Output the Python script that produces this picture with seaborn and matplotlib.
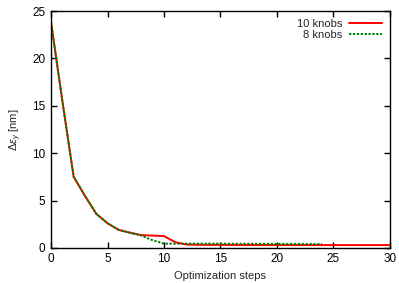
import matplotlib
matplotlib.use("Agg")
import matplotlib.pyplot as plt
import seaborn as sns
import pandas as pd

steps_10 = list(range(0, 31))
knobs_10 = [23.8, 15.5, 7.5, 5.5, 3.6, 2.6, 1.9, 1.6, 1.35, 1.3, 1.25, 0.6, 0.35,
            0.33, 0.32, 0.32, 0.31, 0.31, 0.3, 0.3, 0.3, 0.3, 0.3, 0.3, 0.3,
            0.3, 0.3, 0.3, 0.3, 0.3, 0.3]
steps_8 = list(range(0, 25))
knobs_8 = [23.8, 15.5, 7.5, 5.5, 3.6, 2.6, 1.9, 1.6, 1.3, 0.8, 0.45, 0.45, 0.45,
           0.45, 0.45, 0.45, 0.44, 0.44, 0.43, 0.43, 0.42, 0.42, 0.41, 0.41, 0.4]

sns.set_theme(style="ticks")
plt.rcParams['font.family'] = ['Liberation Sans', 'DejaVu Sans']
plt.rcParams['mathtext.fontset'] = 'custom'
plt.rcParams['mathtext.rm'] = 'Liberation Sans'
plt.rcParams['mathtext.it'] = 'Liberation Sans:italic'

fig = plt.figure(figsize=(3.99, 2.83), dpi=100)
ax = fig.add_axes([0.128, 0.124, 0.849, 0.837])

df10 = pd.DataFrame({"x": steps_10, "y": knobs_10})
df8 = pd.DataFrame({"x": steps_8, "y": knobs_8})
sns.lineplot(data=df10, x="x", y="y", ax=ax, color="#ff0000", linewidth=1.4, label="10 knobs")
sns.lineplot(data=df8, x="x", y="y", ax=ax, color="#008000", linewidth=1.4,
             linestyle=(0, (1.2, 0.8)), label="8 knobs")

ax.set_xlim(0, 30)
ax.set_ylim(0, 25)
ax.set_xticks([0, 5, 10, 15, 20, 25, 30])
ax.set_yticks([0, 5, 10, 15, 20, 25])
ax.tick_params(direction="in", top=True, right=True, labelsize=8.5, length=4, width=1,
               colors="black", pad=4)
for s in ax.spines.values():
    s.set_linewidth(1.0)
    s.set_color("black")
ax.set_xlabel("Optimization steps", fontsize=8)
ax.set_ylabel(r"$\Delta\varepsilon_y$ [nm]", fontsize=8, labelpad=6)

leg = ax.legend(loc="upper right", frameon=False, fontsize=8, markerfirst=False,
                handlelength=3.0, handletextpad=0.6, borderaxespad=0.3, labelspacing=0.1)
for t in leg.get_texts():
    t.set_ha("right")

fig.savefig("out.png", dpi=100)
